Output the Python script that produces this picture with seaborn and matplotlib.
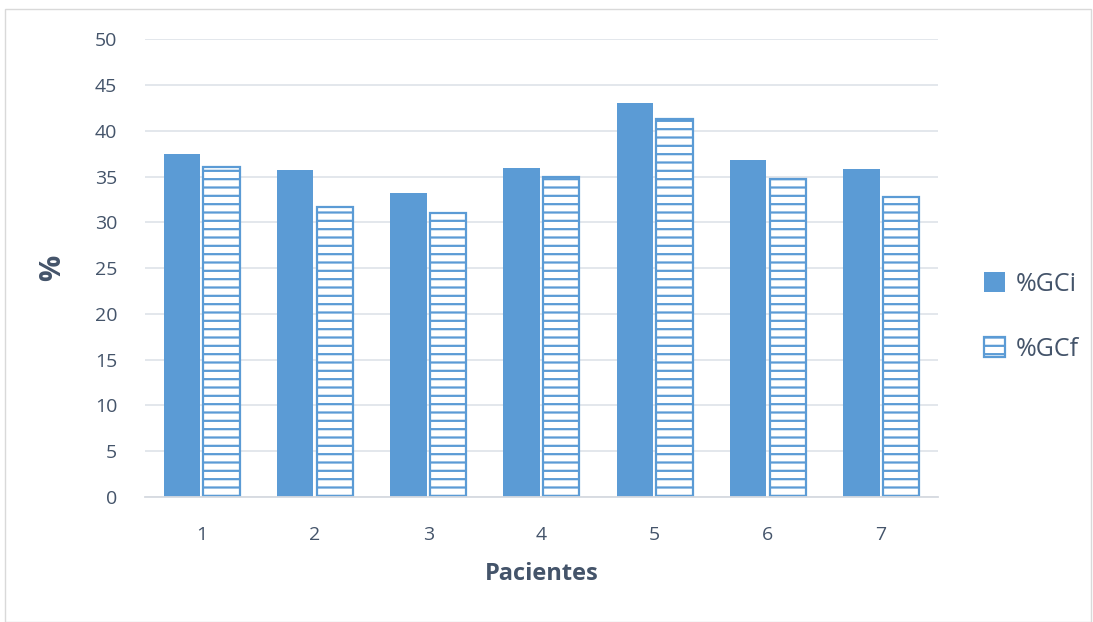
import numpy as np
import pandas as pd
import seaborn as sns
import matplotlib.pyplot as plt
from matplotlib.patches import Rectangle

# values
pacientes = ['1', '2', '3', '4', '5', '6', '7']
gci = [37.5, 35.7, 33.2, 35.9, 43.0, 36.8, 35.8]
gcf = [36.0, 31.7, 31.0, 35.0, 41.3, 34.7, 32.8]
series = ['%GCi', '%GCf']

df = pd.DataFrame({
    'Pacientes': pacientes * 2,
    'valor': gci + gcf,
    'serie': [series[0]] * len(gci) + [series[1]] * len(gcf),
})

sns.set_style('white')
plt.rcParams['font.family'] = ['Open Sans', 'DejaVu Sans']
plt.rcParams['hatch.linewidth'] = 1.6

blue = '#5B9BD5'
txt = '#44546A'
grid = '#E1E5EB'

fig = plt.figure(figsize=(10.93, 6.22), dpi=100)
ax = fig.add_axes([0.1327, 0.201, 0.7253, 0.736])

sns.barplot(data=df, x='Pacientes', y='valor', hue='serie', order=pacientes,
            hue_order=series, palette=[blue, blue], width=0.70, gap=0.08,
            saturation=1, legend=False, ax=ax)

# second series: white bars with horizontal line hatching
for bar in ax.containers[1]:
    bar.set_facecolor('white')
    bar.set_edgecolor(blue)
    bar.set_hatch('--')
    bar.set_linewidth(1.6)
for bar in ax.containers[0]:
    bar.set_edgecolor('none')

ax.set_ylim(0, 50)
ax.set_yticks(range(0, 51, 5))
ax.yaxis.grid(True, color=grid, linewidth=1.3)
ax.set_axisbelow(True)
for s in ['top', 'right', 'left']:
    ax.spines[s].set_visible(False)
ax.spines['bottom'].set_color('#D6DAE0')
ax.spines['bottom'].set_linewidth(1.3)
ax.tick_params(axis='both', length=0, labelsize=14, colors=txt)
ax.tick_params(axis='y', pad=20)
ax.tick_params(axis='x', pad=21)

ax.set_xlabel('Pacientes', fontsize=17, fontweight='bold', color=txt, labelpad=13)
ax.set_ylabel('%', fontsize=21, fontweight='bold', color=txt, labelpad=20)

handles = [ax.containers[0][0], ax.containers[1][0]]
ax.legend(handles=handles, labels=series, loc='center left',
          bbox_to_anchor=(1.03, 0.393), frameon=False, fontsize=18,
          handlelength=0.85, handleheight=0.85, handletextpad=0.4,
          labelspacing=1.6, labelcolor=txt)

# light outer frame of the chart
fig.patches.append(Rectangle((0.005, 0.0), 0.993, 0.985, transform=fig.transFigure,
                             fill=False, edgecolor='#D9D9D9', linewidth=1))

fig.savefig('out.png', dpi=100)
